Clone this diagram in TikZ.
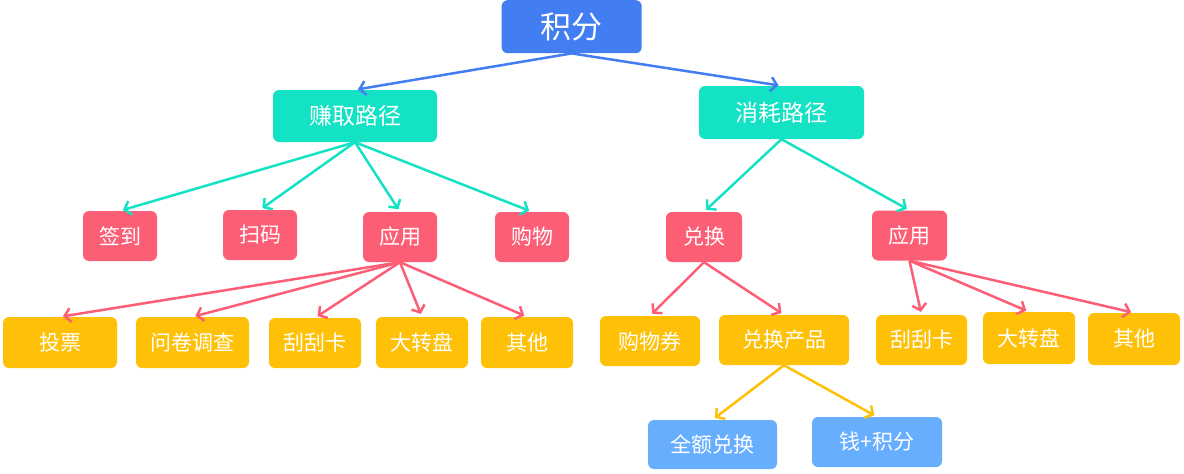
\documentclass[tikz,border=0pt]{standalone}
\usepackage{fontspec}
\setmainfont{Noto Sans CJK SC}
\usetikzlibrary{arrows.meta}
\definecolor{cblue}{RGB}{66,126,242}
\definecolor{cteal}{RGB}{20,226,196}
\definecolor{cred}{RGB}{252,94,118}
\definecolor{cyel}{RGB}{255,193,7}
\definecolor{clblue}{RGB}{104,174,255}
\tikzset{
  bx/.style={rounded corners=6pt, inner sep=0pt, text=white, align=center},
  lv0/.style={bx, fill=cblue, font=\fontsize{31}{31}\selectfont},
  lv1/.style={bx, fill=cteal, font=\fontsize{23}{23}\selectfont},
  lv2/.style={bx, fill=cred, font=\fontsize{21}{21}\selectfont},
  lv3/.style={bx, fill=cyel, font=\fontsize{21}{21}\selectfont},
  lv4/.style={bx, fill=clblue, font=\fontsize{21}{21}\selectfont},
  sz/.style 2 args={minimum width=#1pt, minimum height=#2pt},
  conn/.style={draw=#1, line width=2.5pt, shorten >=3pt,
    -{Straight Barb[length=6pt,width=14pt,line width=2.5pt]}},
}
\begin{document}
\begin{tikzpicture}[x=1pt,y=-1pt]
\useasboundingbox (0,0) rectangle (1184,474);
% level 0
\node[lv0, sz={140}{53}] (root) at (571.7,26.7) {积分};
% level 1
\node[lv1, sz={164}{52}] (earn) at (355,116) {赚取路径};
\node[lv1, sz={165}{53}] (cons) at (781.5,112.5) {消耗路径};
% level 2
\node[lv2, sz={74}{50}] (qd) at (120,236) {签到};
\node[lv2, sz={74}{50}] (sm) at (260,235) {扫码};
\node[lv2, sz={74}{50}] (yyL) at (400,237) {应用};
\node[lv2, sz={74}{50}] (gw) at (532,237) {购物};
\node[lv2, sz={76}{50}] (dh) at (704,237) {兑换};
\node[lv2, sz={75}{50}] (yyR) at (909.5,235.5) {应用};
% level 3
\node[lv3, sz={114}{51}] (tp) at (60,342.5) {投票};
\node[lv3, sz={113}{51}] (wj) at (192.5,342.5) {问卷调查};
\node[lv3, sz={92}{50}] (gL) at (315,343) {刮刮卡};
\node[lv3, sz={92}{51}] (dL) at (422,342.5) {大转盘};
\node[lv3, sz={92}{51}] (qL) at (527,342.5) {其他};
\node[lv3, sz={100}{50}] (gwq) at (650,341) {购物券};
\node[lv3, sz={130}{50}] (dhcp) at (784,340) {兑换产品};
\node[lv3, sz={91}{50}] (gR) at (921.5,340) {刮刮卡};
\node[lv3, sz={92}{52}] (dR) at (1029,338) {大转盘};
\node[lv3, sz={92}{52}] (qR) at (1134,339) {其他};
% level 4
\node[lv4, sz={129}{49}] (qe) at (712.5,444.5) {全额兑换};
\node[lv4, sz={130}{50}] (qjf) at (877,442) {钱+积分};
% connectors
\foreach \c in {earn,cons} \draw[conn=cblue] (root.south) -- (\c.north);
\foreach \c in {qd,sm,yyL,gw} \draw[conn=cteal] (earn.south) -- (\c.north);
\foreach \c in {dh,yyR} \draw[conn=cteal] (cons.south) -- (\c.north);
\foreach \c in {tp,wj,gL,dL,qL} \draw[conn=cred] (yyL.south) -- (\c.north);
\foreach \c in {gwq,dhcp} \draw[conn=cred] (dh.south) -- (\c.north);
\foreach \c in {gR,dR,qR} \draw[conn=cred] (yyR.south) -- (\c.north);
\foreach \c in {qe,qjf} \draw[conn=cyel] (dhcp.south) -- (\c.north);
\end{tikzpicture}
\end{document}
